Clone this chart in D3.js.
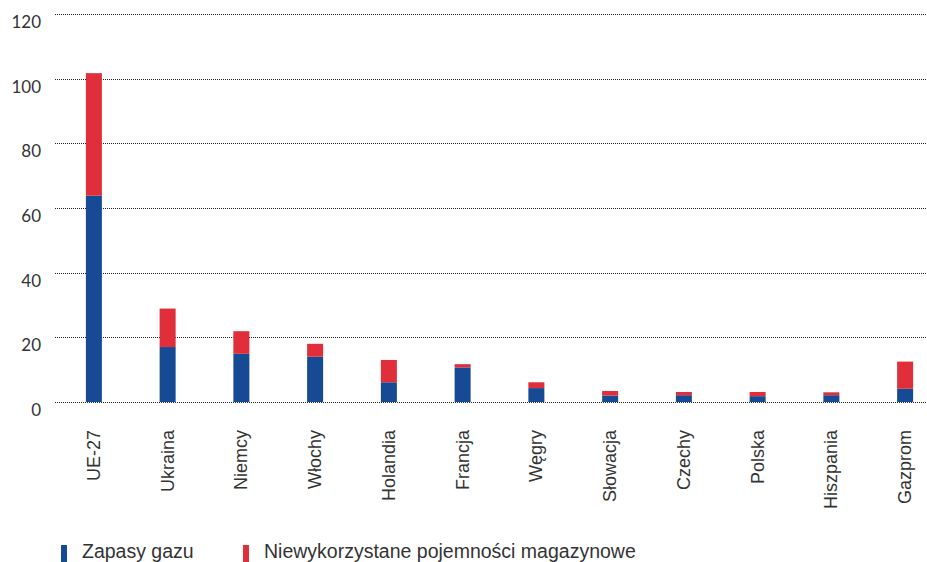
<!DOCTYPE html>
<html><head><meta charset="utf-8">
<script src="https://cdn.jsdelivr.net/npm/d3@7"></script>
<style>
body{margin:0;background:#fff;}
svg{display:block;}
</style></head>
<body>
<svg id="chart" width="927" height="562"></svg>
<script>
const categories = ["UE-27","Ukraina","Niemcy","Włochy","Holandia","Francja","Węgry","Słowacja","Czechy","Polska","Hiszpania","Gazprom"];
const zapasy = [63.8,17.0,14.9,14.0,6.1,10.7,4.3,2.0,2.1,1.8,2.1,4.1];
const niewykorzystane = [37.9,11.9,7.0,4.0,6.9,1.0,1.8,1.4,1.0,1.3,0.9,8.4];
const yTicks = [0,20,40,60,80,100,120];
const seriesNames = ["Zapasy gazu","Niewykorzystane pojemności magazynowe"];
const colors = ["#174a94","#e02e3a"];

const svg = d3.select("#chart");
const y = d3.scaleLinear().domain([0,120]).range([402,14]);
const x = d3.scaleBand().domain(categories).range([57,942]).padding(0);
const barW = 16;

// gridlines
svg.append("g").selectAll("line").data(yTicks).join("line")
  .attr("x1",55).attr("x2",927)
  .attr("y1",d=>Math.round(y(d))+0.5).attr("y2",d=>Math.round(y(d))+0.5)
  .attr("stroke","#222").attr("stroke-width",1).attr("stroke-dasharray","1,1");

// y labels
svg.append("g").selectAll("text").data(yTicks).join("text")
  .attr("x",41).attr("y",d=>y(d)+14)
  .attr("text-anchor","end")
  .attr("font-family","Lato, 'Open Sans', sans-serif")
  .attr("font-size",17).attr("fill","#333")
  .text(d=>d);

// stacked bars
const rows = categories.map((c,i)=>({cat:c, a:zapasy[i], b:niewykorzystane[i]}));
const stack = d3.stack().keys(["a","b"])(rows);
svg.append("g").selectAll("g").data(stack).join("g")
  .attr("fill",(d,i)=>colors[i])
  .selectAll("rect").data(d=>d).join("rect")
  .attr("x",d=>x(d.data.cat)+x.bandwidth()/2-barW/2)
  .attr("width",barW)
  .attr("y",d=>y(d[1]))
  .attr("height",d=>y(d[0])-y(d[1]));

// x labels
svg.append("g").selectAll("text").data(categories).join("text")
  .attr("transform",d=>`translate(${x(d)+x.bandwidth()/2+6},430) rotate(-90)`)
  .attr("text-anchor","end")
  .attr("font-family","'Liberation Sans', Arial, sans-serif")
  .attr("font-size",18).attr("fill","#333")
  .text(d=>d);

// legend
const legX = [61,243];
const leg = svg.append("g");
seriesNames.forEach((n,i)=>{
  leg.append("rect").attr("x",legX[i]).attr("y",545).attr("width",6).attr("height",17).attr("fill",colors[i]);
  leg.append("text").attr("x",legX[i]+21).attr("y",558)
    .attr("font-family","'Liberation Sans', Arial, sans-serif")
    .attr("font-size",19.5).attr("fill","#333").text(n);
});
</script>
</body></html>
